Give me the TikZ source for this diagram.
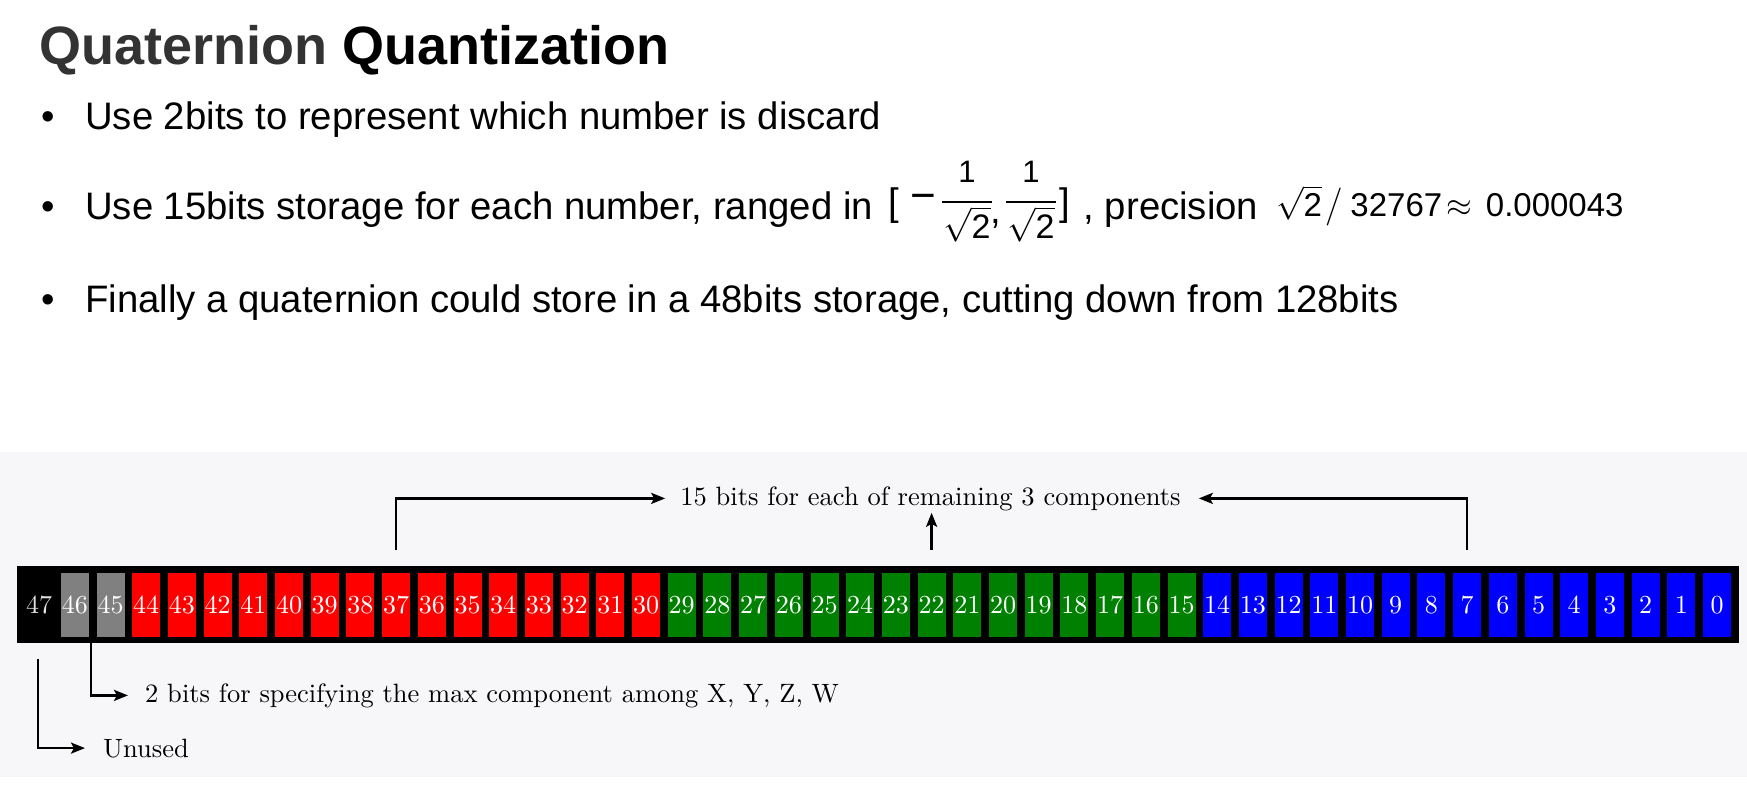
\documentclass[tikz,border=0pt]{standalone}
\usepackage{fix-cm}
\usepackage{amsmath}
\usepackage{fontspec}
\newfontfamily\arial{Liberation Sans}
\newfontfamily\lmten{lmroman10-regular}[Extension=.otf]
\usetikzlibrary{arrows.meta,calc}
\definecolor{bandbg}{HTML}{F7F7F9}
\definecolor{titlegray}{HTML}{333333}
\definecolor{bitred}{HTML}{FF0000}
\definecolor{bitgreen}{HTML}{008000}
\definecolor{bitblue}{HTML}{0000FF}
\definecolor{bitgray}{HTML}{808080}
\begin{document}
\begin{tikzpicture}[x=1pt,y=-1pt,
  bitbox/.style={minimum width=28pt, minimum height=64pt, inner sep=0pt, font=\lmten\fontsize{26}{26}\selectfont},
  conn/.style={line width=2.6pt},
  arr/.style={conn, -{Stealth[length=14pt,width=11pt,inset=3pt]}},
  lbl/.style={font=\lmten\fontsize{26.5}{30}\selectfont, inner sep=0pt, anchor=base west},
  body/.style={font=\arial\fontsize{38.3}{44}\selectfont, inner sep=0pt, anchor=base west},
  fracnum/.style={font=\arial\fontsize{31}{34}\selectfont, inner sep=0pt, anchor=base},
  fracden/.style={font=\arial\fontsize{34}{36}\selectfont, inner sep=0pt, anchor=base},
  fracbar/.style={line width=2.2pt},
]
\fill[white] (0,0) rectangle (1747,788);
\useasboundingbox (0,0) rectangle (1747,788);

% title
\node[inner sep=0pt, anchor=base west, font=\arial\bfseries\fontsize{54}{60}\selectfont] (title) at (39,64) {\textcolor{titlegray}{Quaternion} Quantization};

% bullets
\node[body] (dot1) at (41,129) {•};
\node[body] (line1) at (85,129) {Use 2bits to represent which number is discard};
\node[body] (dot2) at (41,219) {•};
\node[body] (line2) at (85,219) {Use 15bits storage for each number, ranged in};
\node[body] (lbr) at (888,215) {[};
\node[body, anchor=center, font=\arial\fontsize{44}{44}\selectfont] (minus) at (923,202) {−};
\node[fracnum] (num1) at (967,182) {1};
\node[fracden] (den1) at (967,238) {$\sqrt{\mbox{2}}$};
\draw[fracbar] (942,202) -- (992,202);
\node[body] (comma) at (990,223) {,};
\node[fracnum] (num2) at (1031,182) {1};
\node[fracden] (den2) at (1031,238) {$\sqrt{\mbox{2}}$};
\draw[fracbar] (1006,202) -- (1056,202);
\node[body] (rbr) at (1059,215) {]};
\node[body] (prec) at (1083.5,219) {, precision};
\node[inner sep=0pt, anchor=base west, font=\arial\fontsize{33}{34}\selectfont] (precval) at (1276,216)
  {$\sqrt{\mbox{2}}$\hspace{3pt}{\fontsize{38}{38}\selectfont$/$}\hspace{8pt}32767\hspace{4pt}$\approx$\hspace{14pt}0.000043};
\node[body] (dot3) at (41,312) {•};
\node[body] (line3) at (85,312) {Finally a quaternion could store in a 48bits storage, cutting down from 128bits};

% diagram band
\fill[bandbg] (0,451.5) rectangle (1747,777);
\node[fill=black, minimum width=1722pt, minimum height=77pt, inner sep=0pt, anchor=north west] (bar) at (17,566) {};

\foreach \i in {0,...,47}{
  \pgfmathsetmacro\cx{1717-35.7*\i}
  \def\tc{white}
  \ifnum\i<15 \def\bc{bitblue}\else
    \ifnum\i<30 \def\bc{bitgreen}\else
      \ifnum\i<45 \def\bc{bitred}\else
        \ifnum\i<47 \def\bc{bitgray}\else
          \def\bc{black}\def\tc{black!12}\fi\fi\fi\fi
  \node[bitbox, fill=\bc, text=\tc] (b\i) at (\cx,605) {\i};
}

% top annotation
\node[lbl, anchor=base] (top) at (930.5,505) {15 bits for each of remaining 3 components};
\draw[arr] ($(b37.north)+(0,-23)$) |- ($(top.west)+(-15,0)$);
\draw[arr] ($(b7.north)+(0,-23)$) |- ($(top.east)+(18,0)$);
\draw[arr] ($(b22.north)+(0,-23)$) -- ($(b22.north)+(0,-60)$);

% bottom annotations
\node[lbl] (two) at (145,702) {2 bits for specifying the max component among X, Y, Z, W};
\draw[arr] ($(b46.east |- bar.south)+(2,0)$) |- ($(two.west)+(-17,0)$);
\node[lbl] (unused) at (103,757) {Unused};
\draw[arr] ($(b47.south)+(-1,22)$) |- ($(unused.west)+(-18,0)$);
\end{tikzpicture}
\end{document}
